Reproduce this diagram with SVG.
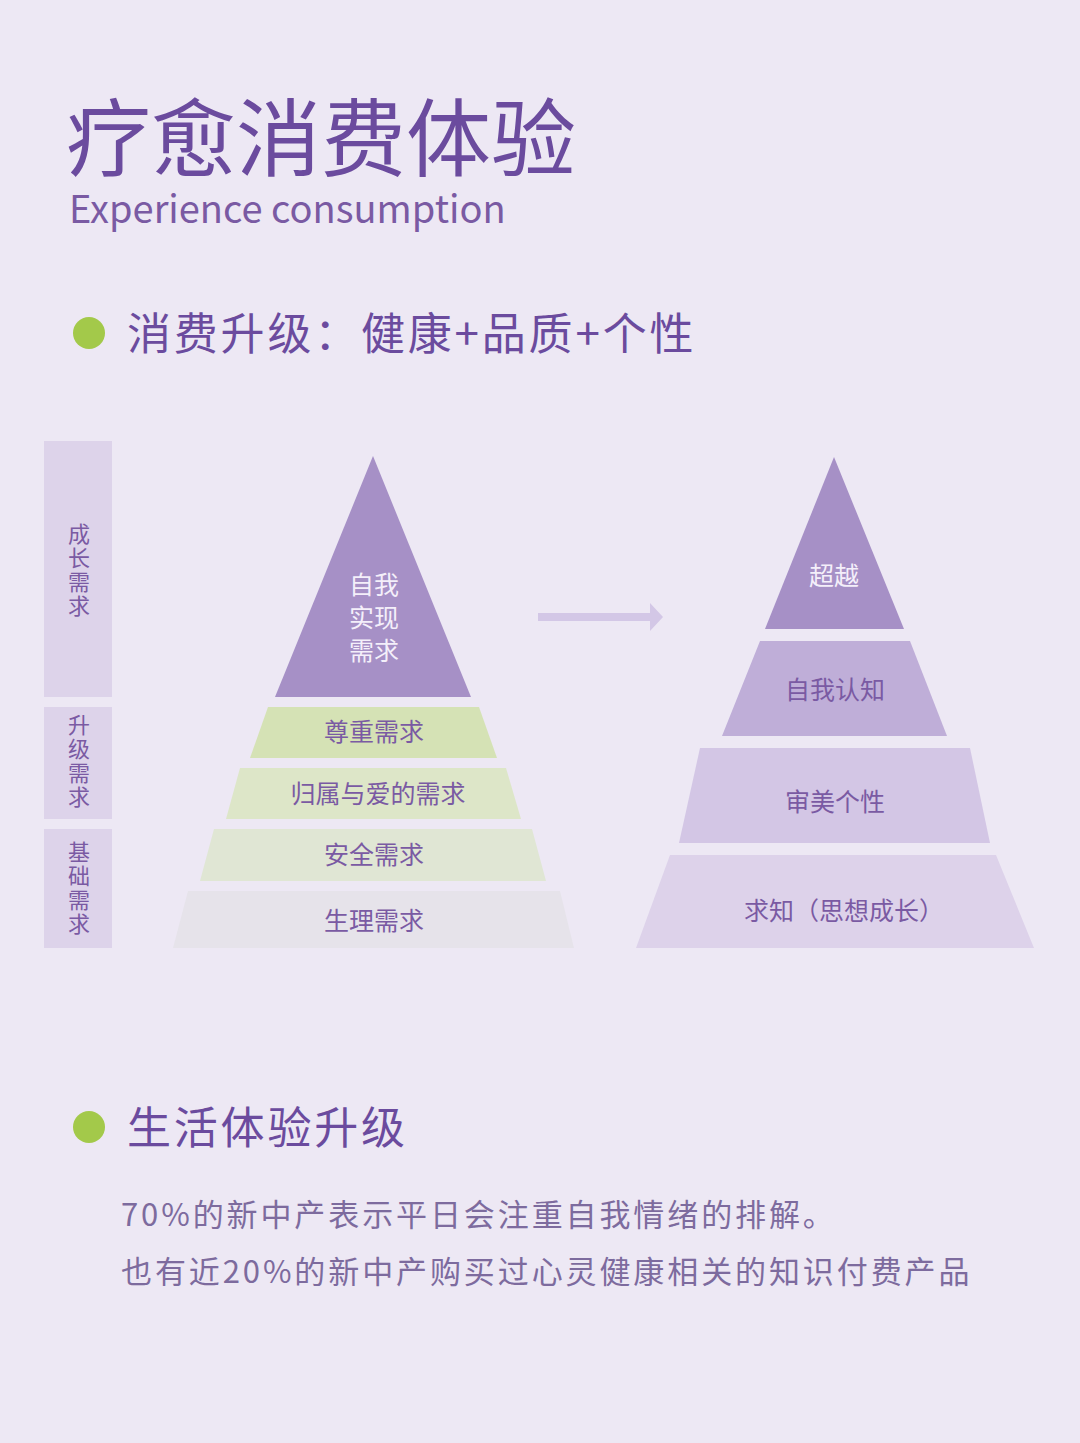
<svg xmlns="http://www.w3.org/2000/svg" width="1080" height="1443" viewBox="0 0 1080 1443">
<style>
text{font-family:"Noto Sans CJK SC","Noto Sans",sans-serif}
.t{fill:#6b4b9e}
.lab{fill:#7a5aa3;font-size:22px;text-anchor:middle}
.in{font-size:25px;text-anchor:middle;fill:#7a5aa3}
.w{fill:#f4effa}
.side{fill:#ddd3ea}
.body{fill:#7d6b9e;font-size:31px;letter-spacing:2.9px}
</style>
<rect width="1080" height="1443" fill="#ede8f4"/>
<g id="title">
<text class="t" x="66" y="170" font-size="85">疗愈消费体验</text>
<text x="69" y="223" font-size="38" fill="#7a5aa3" font-family="'Open Sans',sans-serif">Experience consumption</text>
</g>
<g id="heading1"><circle cx="89" cy="333" r="16" fill="#a3c94a"/><text class="t" x="127" y="350" font-size="44" letter-spacing="2.8">消费升级：健康+品质+个性</text></g>
<g id="side-labels">
<rect class="side" x="44" y="441" width="68" height="256"/>
<rect class="side" x="44" y="707" width="68" height="112"/>
<rect class="side" x="44" y="829" width="68" height="119"/>
<text class="lab"><tspan x="79" y="542">成</tspan><tspan x="79" y="566">长</tspan><tspan x="79" y="590">需</tspan><tspan x="79" y="614">求</tspan></text>
<text class="lab"><tspan x="79" y="733">升</tspan><tspan x="79" y="757">级</tspan><tspan x="79" y="781">需</tspan><tspan x="79" y="805">求</tspan></text>
<text class="lab"><tspan x="79" y="860">基</tspan><tspan x="79" y="884">础</tspan><tspan x="79" y="908">需</tspan><tspan x="79" y="932">求</tspan></text>
</g>
<g id="left-pyramid">
<g id="l1"><polygon points="373,456 471,697 275,697" fill="#a690c6"/><text class="in w"><tspan x="374" y="594">自我</tspan><tspan x="374" y="627">实现</tspan><tspan x="374" y="660">需求</tspan></text></g>
<g id="l2"><polygon points="268,707 479,707 497,758 250,758" fill="#d5e2b5"/><text class="in" x="374" y="741" font-size="23">尊重需求</text></g>
<g id="l3"><polygon points="240,768 506,768 521,819 226,819" fill="#dde6c8"/><text class="in" x="378" y="803" font-size="23">归属与爱的需求</text></g>
<g id="l4"><polygon points="214,829 532,829 546,881 200,881" fill="#e0e6d4"/><text class="in" x="374" y="864" font-size="23">安全需求</text></g>
<g id="l5"><polygon points="188,891 560,891 574,948 173,948" fill="#e6e3ea"/><text class="in" x="374" y="930" font-size="23">生理需求</text></g>
</g>
<g id="connectors"><polygon points="538,613 650,613 650,603 663,617 650,631 650,621 538,621" fill="#d3c7e6"/></g>
<g id="right-pyramid">
<g id="r1"><polygon points="834,457 904,629 765,629" fill="#a690c6"/><text class="in w" x="834" y="585">超越</text></g>
<g id="r2"><polygon points="760,641 910,641 947,736 722,736" fill="#bfaed8"/><text class="in" x="835" y="699">自我认知</text></g>
<g id="r3"><polygon points="700,748 970,748 990,843 679,843" fill="#d3c6e5"/><text class="in" x="835" y="811">审美个性</text></g>
<g id="r4"><polygon points="670,855 996,855 1034,948 636,948" fill="#ddd2ea"/><text class="in" x="844" y="920">求知（思想成长）</text></g>
</g>
<g id="heading2"><circle cx="89" cy="1127" r="16" fill="#a3c94a"/><text class="t" x="127" y="1144" font-size="44" letter-spacing="2.8">生活体验升级</text></g>
<g id="body">
<text class="body" x="121" y="1226">70%的新中产表示平日会注重自我情绪的排解。</text>
<text class="body" x="121" y="1283">也有近20%的新中产购买过心灵健康相关的知识付费产品</text>
</g>
</svg>
